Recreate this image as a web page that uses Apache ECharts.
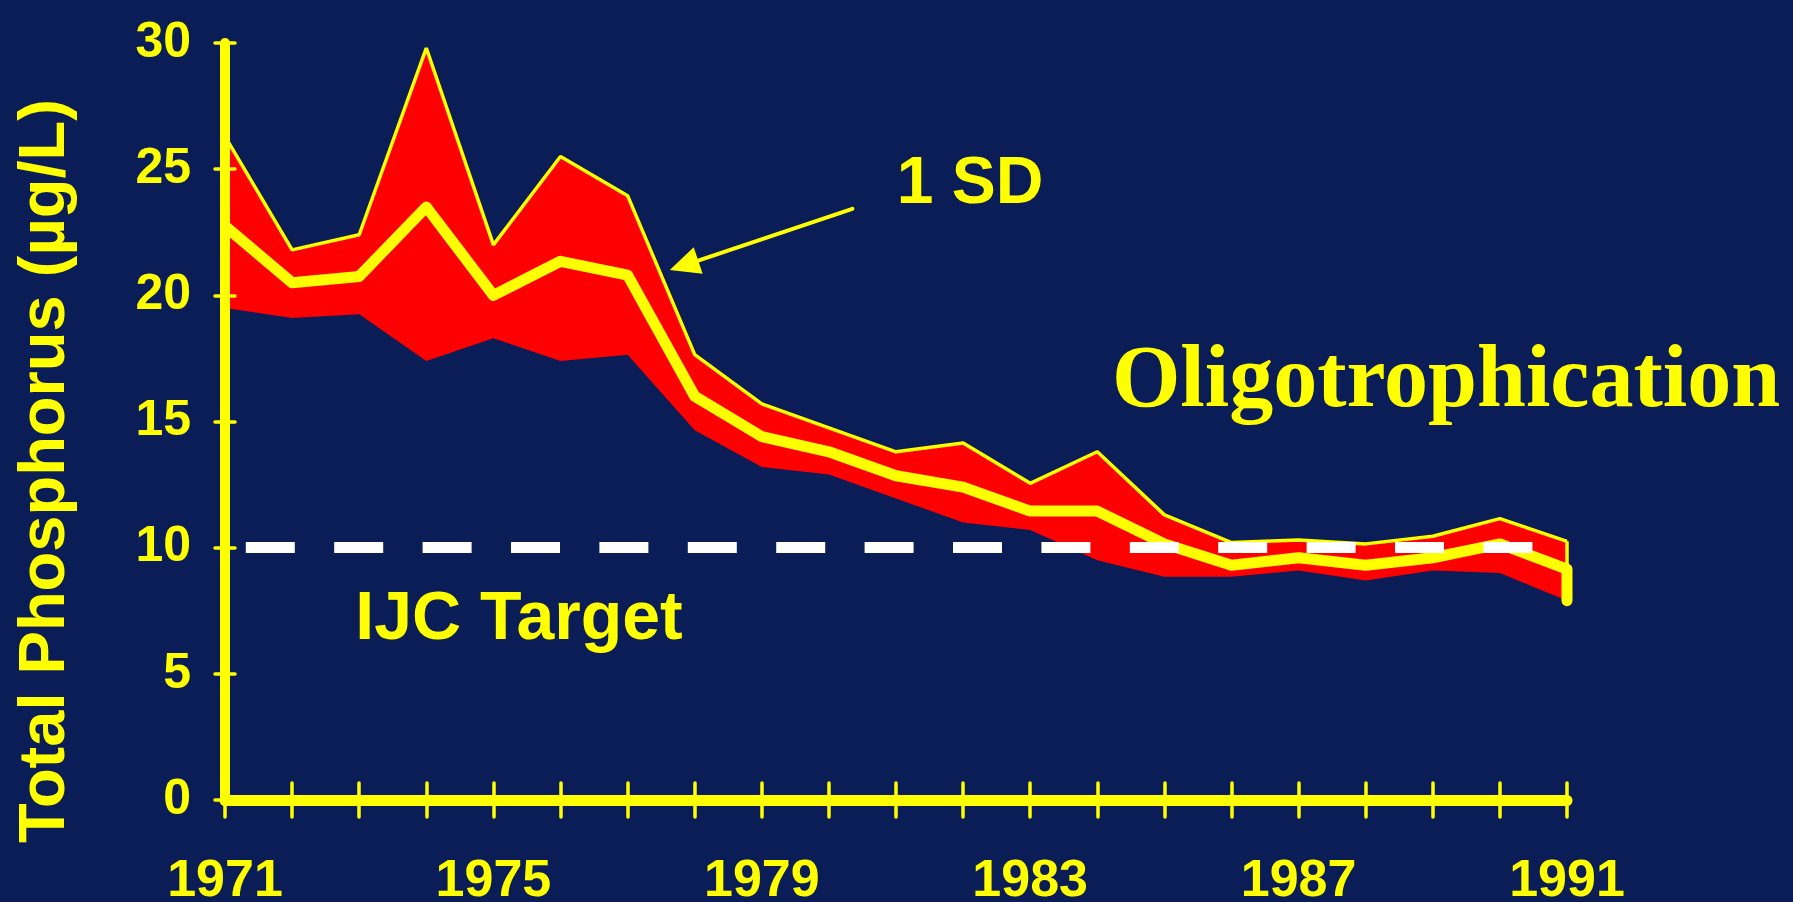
<!DOCTYPE html>
<html>
<head>
<meta charset="utf-8">
<script src="https://cdn.jsdelivr.net/npm/echarts@6/dist/echarts.min.js"></script>
<style>
  html, body { margin: 0; padding: 0; background: #0a1d57; }
  #chart { width: 1793px; height: 902px; }
</style>
</head>
<body>
<div id="chart"></div>
<script>
// years of record
const years = [1971, 1972, 1973, 1974, 1975, 1976, 1977, 1978, 1979, 1980,
  1981, 1982, 1983, 1984, 1985, 1986, 1987, 1988, 1989, 1990, 1991];
// mean total phosphorus (ug/L)
const meanTP = [22.75, 20.5, 20.75, 23.5, 20.0, 21.35, 20.8, 16.0, 14.4, 13.8,
  12.85, 12.4, 11.45, 11.45, 10.15, 9.3, 9.6, 9.3, 9.6, 10.15, 9.15];
// mean + 1 SD
const upperSD = [26.3, 21.8, 22.4, 29.8, 22.0, 25.5, 23.95, 17.65, 15.7, 14.75,
  13.8, 14.15, 12.55, 13.8, 11.3, 10.2, 10.3, 10.15, 10.45, 11.15, 10.25];
// mean - 1 SD
const lowerSD = [19.5, 19.1, 19.25, 17.4, 18.3, 17.4, 17.65, 14.65, 13.2, 12.9,
  11.95, 11.0, 10.7, 9.5, 8.85, 8.85, 9.1, 8.7, 9.1, 9.0, 7.9];
const labelYears = [1971, 1975, 1979, 1983, 1987, 1991];
const ijcTarget = 10;
const targetSpan = [1971.31, 1990.49];
// arrow pointing at the SD band: [from, to] in data units
const sdArrow = [[1980.35, 23.43], [1977.84, 21.19]];

const BG = '#0a1d57';
const YEL = '#ffff00';
const SANS = '"Liberation Sans", Arial, sans-serif';

const pairs = arr => years.map((y, i) => [y, arr[i]]);
const last = years.length - 1;

const chart = echarts.init(document.getElementById('chart'));

const xBase = {
  type: 'value', min: 1971, max: 1991, interval: 1,
  position: 'bottom', splitLine: { show: false }, z: 10
};
const yBase = {
  type: 'value', min: 0, max: 30, interval: 5,
  position: 'left', splitLine: { show: false }, z: 10
};

let option = {
  backgroundColor: BG,
  animation: false,
  grid: {
    left: 225, top: 43, width: 1342, height: 757,
    containLabel: false, outerBoundsMode: 'none'
  },
  xAxis: [
    Object.assign({}, xBase, {
      axisLine: { show: true, onZero: false, lineStyle: { color: YEL, width: 11 } },
      axisTick: { show: true, length: 17, lineStyle: { color: YEL, width: 3.5, cap: 'round' } },
      axisLabel: {
        color: YEL, fontSize: 52, fontWeight: 'bold', fontFamily: SANS, margin: 56,
        formatter: v => labelYears.indexOf(v) >= 0 ? String(v) : ''
      }
    }),
    Object.assign({}, xBase, {
      axisLine: { show: false },
      axisTick: { show: true, inside: true, length: 17, lineStyle: { color: YEL, width: 3.5, cap: 'round' } },
      axisLabel: { show: false }
    })
  ],
  yAxis: [
    Object.assign({}, yBase, {
      axisLine: { show: true, onZero: false, lineStyle: { color: YEL, width: 10 } },
      axisTick: { show: true, length: 10, lineStyle: { color: YEL, width: 3.5, cap: 'round' } },
      axisLabel: {
        color: YEL, fontSize: 50, fontWeight: 'bold', fontFamily: SANS, margin: 34
      }
    }),
    Object.assign({}, yBase, {
      axisLine: { show: false },
      axisTick: { show: true, inside: true, length: 10, lineStyle: { color: YEL, width: 3.5, cap: 'round' } },
      axisLabel: { show: false }
    })
  ],
  series: [
    {
      name: '+1 SD', type: 'line', data: pairs(upperSD), symbol: 'none', z: 2,
      lineStyle: { color: YEL, width: 3.5 },
      areaStyle: { color: '#ff0000', opacity: 1 }
    },
    {
      name: '-1 SD', type: 'line', data: pairs(lowerSD), symbol: 'none', z: 3,
      lineStyle: { width: 0 },
      areaStyle: { color: BG, opacity: 1 }
    },
    {
      name: 'Mean', type: 'line', data: pairs(meanTP), symbol: 'none', z: 4,
      lineStyle: { color: YEL, width: 11, join: 'round' }
    },
    {
      name: 'mean end', type: 'line', symbol: 'none', z: 4,
      data: [[years[last], meanTP[last]], [years[last], lowerSD[last]]],
      lineStyle: { color: YEL, width: 11, cap: 'round' }
    },
    {
      name: 'sd end', type: 'line', symbol: 'none', z: 4,
      data: [[years[last], upperSD[last]], [years[last], meanTP[last]]],
      lineStyle: { color: YEL, width: 3.5 }
    },
    {
      name: 'marks', type: 'line', data: [], z: 6,
      markLine: {
        silent: true, animation: false,
        label: { show: false },
        data: [
          [
            { coord: [targetSpan[0], ijcTarget], symbol: 'none',
              lineStyle: { color: '#ffffff', width: 11, type: [49, 39.4], cap: 'butt' } },
            { coord: [targetSpan[1], ijcTarget], symbol: 'none' }
          ],
          [
            { coord: sdArrow[0], symbol: 'none',
              lineStyle: { color: YEL, width: 4, type: 'solid', cap: 'round' } },
            { coord: sdArrow[1], symbol: 'triangle', symbolSize: [28, 30] }
          ]
        ]
      }
    }
  ],
  graphic: {
    elements: [
      {
        type: 'text', x: 46, y: 471, rotation: Math.PI / 2, z: 100,
        style: {
          text: 'Total Phosphorus (µg/L)', fill: YEL,
          font: 'bold 65px ' + SANS, textAlign: 'center', textVerticalAlign: 'middle'
        }
      },
      {
        type: 'text', x: 970, y: 185, z: 100,
        style: {
          text: '1 SD', fill: YEL, font: 'bold 66px ' + SANS,
          textAlign: 'center', textVerticalAlign: 'middle'
        }
      },
      {
        type: 'text', x: 1446, y: 383, z: 100,
        style: {
          text: 'Oligotrophication', fill: YEL,
          font: 'bold 88px "Liberation Serif", "Times New Roman", serif',
          textAlign: 'center', textVerticalAlign: 'middle'
        }
      },
      {
        type: 'text', x: 519, y: 620, z: 100,
        style: {
          text: 'IJC Target', fill: YEL, font: 'bold 68px ' + SANS,
          textAlign: 'center', textVerticalAlign: 'middle'
        }
      }
    ]
  }
};

chart.setOption(option);
</script>
</body>
</html>
